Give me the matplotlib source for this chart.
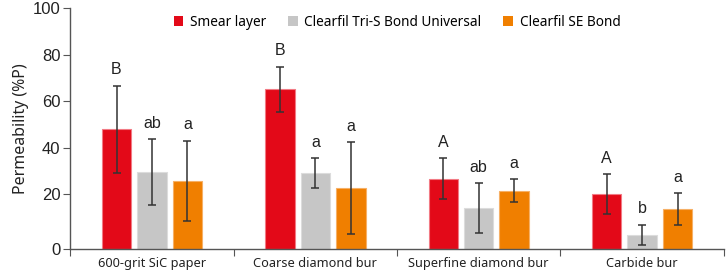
import matplotlib.pyplot as plt
import numpy as np

categories = ['600-grit SiC paper', 'Coarse diamond bur', 'Superfine diamond bur', 'Carbide bur']
series = ['Smear layer', 'Clearfil Tri-S Bond Universal', 'Clearfil SE Bond']

smear = [47.9, 65.0, 26.6, 20.0]
smear_err = [18.7, 9.8, 8.7, 8.7]
tris = [29.6, 29.0, 14.1, 2.4]
tris_err = [14.1, 6.4, 10.7, 4.4]
se = [25.6, 22.6, 21.4, 13.6]
se_err = [17.4, 19.7, 5.0, 6.8]

smear_lbl = ['B', 'B', 'A', 'A']
tris_lbl = ['ab', 'a', 'ab', 'b']
se_lbl = ['a', 'a', 'a', 'a']

colors = ['#e30918', '#c6c6c6', '#f07f00']
edges = ['#f27a84', '#dcdcdc', '#f6b066']

# the original axis floor sits a bit below the true zero
floor = -3.5

fig = plt.figure(figsize=(7.26, 2.78), dpi=100)
ax = fig.add_axes([0.0968, 0.1054, 0.9002, 0.8656])

x = np.arange(len(categories))
w = 0.18
step = 0.217
data = [(smear, smear_err, smear_lbl), (tris, tris_err, tris_lbl), (se, se_err, se_lbl)]
for i, (vals, errs, lbls) in enumerate(data):
    pos = x + (i - 1) * step
    v = np.array(vals)
    ax.bar(pos, v - floor, w, bottom=floor, color=colors[i], edgecolor=edges[i],
           linewidth=0.8, label=series[i], zorder=2)
    ax.errorbar(pos, v, yerr=errs, fmt='none', ecolor='#333333', elinewidth=1.1,
                capsize=3, capthick=1.1, zorder=3)
    for p, val, e, t in zip(pos, vals, errs, lbls):
        ax.annotate(t, (p, val + e), xytext=(0, 6), textcoords='offset points',
                    ha='center', va='bottom', fontsize=11.5, color='#222222',
                    family='Liberation Sans')

ax.set_xlim(-0.5, len(categories) - 0.5)
ax.set_ylim(floor, 100)
ax.set_yticks([floor, 20, 40, 60, 80, 100])
ax.set_yticklabels(['0', '20', '40', '60', '80', '100'], family='Liberation Sans', fontsize=12)
ax.set_xticks(np.arange(len(categories) + 1) - 0.5)
ax.set_xticklabels([])
ax.set_xticks(x, minor=True)
ax.set_xticklabels(categories, minor=True, family='Noto Sans', fontsize=9.2, color='#222222')
ax.tick_params(axis='x', which='minor', length=0, pad=6)
ax.tick_params(axis='x', which='major', length=5, color='#555555')
ax.tick_params(axis='y', length=5, color='#555555', pad=2, labelcolor='#222222')

for s in ['top', 'right']:
    ax.spines[s].set_visible(False)
for s in ['left', 'bottom']:
    ax.spines[s].set_color('#555555')
    ax.spines[s].set_linewidth(1.0)

ax.set_ylabel('Permeability (%P)', family='Noto Sans', fontsize=11.5, color='#222222', labelpad=3)

leg = ax.legend(loc='upper center', bbox_to_anchor=(0.5, 1.0), ncol=3, frameon=False,
                handlelength=0.7, handleheight=0.7, handletextpad=0.5, columnspacing=1.6,
                prop={'family': 'Noto Sans', 'size': 9.8}, borderaxespad=0.1)
for h in leg.legend_handles:
    h.set_edgecolor('none')

fig.savefig('out.png', dpi=100)
